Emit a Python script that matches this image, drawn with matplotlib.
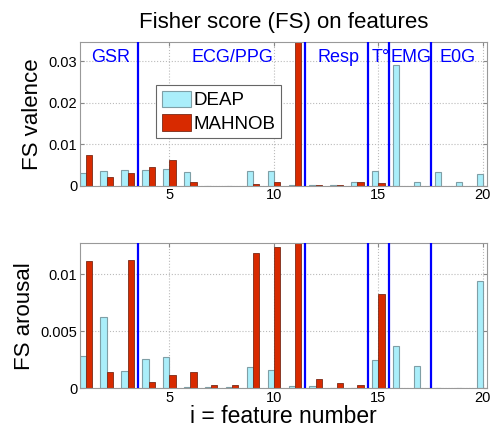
import matplotlib
matplotlib.use("Agg")
import matplotlib.pyplot as plt
import numpy as np

plt.rcParams['font.family'] = ['Liberation Sans', 'DejaVu Sans']

features = np.arange(1, 21)
val_deap = [0.0030, 0.0036, 0.0039, 0.0038, 0.0040, 0.0034, 0.00005, 0.00005, 0.0035, 0.0035,
            0.0001, 0.0001, 0.0002, 0.0008, 0.0036, 0.0291, 0.0010, 0.0032, 0.0008, 0.0028]
val_mahnob = [0.0074, 0.0020, 0.0030, 0.0046, 0.0062, 0.0008, 0.00005, 0.00005, 0.0004, 0.0010,
              0.0500, 0.0001, 0.0001, 0.0008, 0.0006, 0.0, 0.0, 0.0, 0.0, 0.0]
aro_deap = [0.00284, 0.00626, 0.00155, 0.00257, 0.00272, 0.0001, 0.00015, 0.00015, 0.00184, 0.00164,
            0.0002, 0.0002, 0.00003, 0.00003, 0.00249, 0.00374, 0.00196, 0.00005, 0.00005, 0.00936]
aro_mahnob = [0.01117, 0.00146, 0.01126, 0.00053, 0.00117, 0.0014, 0.00026, 0.0003, 0.01184, 0.01237,
              0.0140, 0.00085, 0.00044, 0.00026, 0.0083, 0.0, 0.0, 0.0, 0.0, 0.0]

group_bounds = [3.5, 11.5, 14.5, 15.5, 17.5]
group_names = ['GSR', 'ECG/PPG', 'Resp', 'T°', 'EMG', 'E0G']
group_pos = [2.2, 8.0, 13.1, 15.1, 16.54, 18.78]

deap_face, deap_edge = '#aaeefa', '#7f9fa6'
mah_face, mah_edge = '#d82a00', '#7a2a18'

fig = plt.figure(figsize=(4.93, 4.30), dpi=100)
ax1 = fig.add_axes([0.1623, 0.5681, 0.8256, 0.3349])
ax2 = fig.add_axes([0.1623, 0.0970, 0.8256, 0.3372])

w = 0.3
for ax, d, m, ylim, yticks, yticklabels, ylabel in [
    (ax1, val_deap, val_mahnob, 0.0347, [0, 0.01, 0.02, 0.03], ['0', '0.01', '0.02', '0.03'], 'FS valence'),
    (ax2, aro_deap, aro_mahnob, 0.0127, [0, 0.005, 0.01], ['0', '0.005', '0.01'], 'FS arousal'),
]:
    ax.bar(features - w / 2, d, width=w, color=deap_face, edgecolor=deap_edge, linewidth=0.8,
           label='DEAP', zorder=2)
    ax.bar(features + w / 2, m, width=w, color=mah_face, edgecolor=mah_edge, linewidth=0.6,
           label='MAHNOB', zorder=2)
    for b in group_bounds:
        ax.axvline(b, color='#0000ff', linewidth=1.6, zorder=3)
    ax.set_xlim(0.72, 20.2)
    ax.set_ylim(0, ylim)
    ax.set_xticks([5, 10, 15, 20])
    ax.set_yticks(yticks)
    ax.set_yticklabels(yticklabels)
    ax.tick_params(direction='in', top=True, right=True, labelsize=10.5, length=3,
                   color='#888888', pad=2)
    ax.grid(True, linestyle=':', color='#bbbbbb', linewidth=0.8, zorder=0)
    ax.set_axisbelow(True)
    for s in ax.spines.values():
        s.set_color('#999999')
        s.set_linewidth(0.8)
    ax.set_ylabel(ylabel, fontsize=16, labelpad=4)

for name, x in zip(group_names, group_pos):
    ax1.text(x, 0.0310, name, color='#0000ff', fontsize=13, ha='center', va='center', zorder=4)

leg = ax1.legend(loc='upper left', bbox_to_anchor=(0.187, 0.70), fontsize=13.5,
                 handlelength=1.55, handleheight=1.0, handletextpad=0.15, borderpad=0.3,
                 labelspacing=0.25, fancybox=False, framealpha=1, borderaxespad=0)
leg.get_frame().set_edgecolor('#666666')
leg.get_frame().set_linewidth(0.8)

ax1.set_title('Fisher score (FS) on features', fontsize=16, pad=10)
ax2.set_xlabel('i = feature number', fontsize=16.5, labelpad=0)

fig.savefig('out.png', dpi=100)
